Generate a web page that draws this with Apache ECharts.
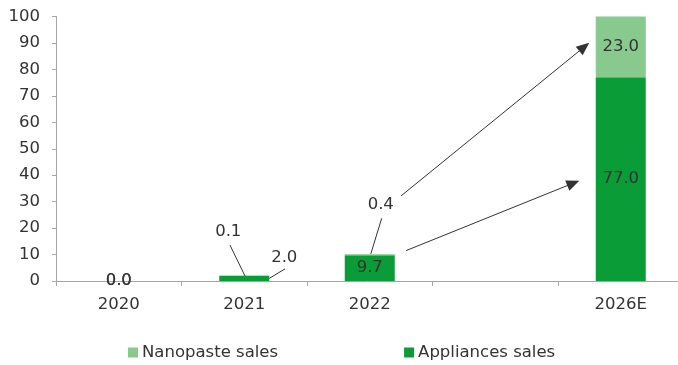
<!DOCTYPE html>
<html>
<head>
<meta charset="utf-8">
<script src="https://cdn.jsdelivr.net/npm/echarts@6/dist/echarts.min.js"></script>
<style>
  html, body { margin: 0; padding: 0; background: #fff; }
  #chart { width: 678px; height: 365px; }
</style>
</head>
<body>
<div id="chart"></div>
<script>
// Sales by year (stacked): appliances at the base, nanopaste on top
const categories = ['2020', '2021', '2022', '', '2026E'];
const appliancesSales = [0.0, 2.0, 9.7, null, 77.0];
const nanopasteSales = [0.0, 0.1, 0.4, null, 23.0];
const yTicks = { min: 0, max: 100, step: 10 };

// Label placement overrides (pixel offsets from the segment centre)
const appliancesLabelOffsets = { 1: [40, -21] };
const nanopasteLabelOffsets = { 1: [-16, -44], 2: [11, -50] };

// Annotation geometry in data units on a hidden continuous x axis
// (x = category index, y = value); arrow ends are the arrowhead centres
const growthArrows = [
  [[2.29, 11.5], [3.622, 37.0]],
  [[2.25, 32.2], [3.709, 88.5]]
];
const leaderLines = [
  [[0.886, 13.6], [1.006, 1.9]],
  [[1.20, 1.0], [1.325, 4.6]],
  [[2.095, 23.7], [2.008, 10.2]]
];

const FONT = "'DejaVu Sans', 'Liberation Sans', Arial, sans-serif";
const FONT_SIZE = 16.5;
const TEXT = '#333333';
const DARK_GREEN = '#0a9c36';
const LIGHT_GREEN = '#88c98e';

function barData(values, offsets) {
  return values.map((v, i) => {
    if (v === null) return null;
    const item = { value: v };
    if (offsets[i]) {
      item.label = { offset: offsets[i] };
    }
    return item;
  });
}

const labelStyle = {
  show: true,
  position: 'inside',
  color: TEXT,
  fontFamily: FONT,
  fontSize: FONT_SIZE,
  formatter: p => (p.value === null || p.value === undefined) ? '' : Number(p.value).toFixed(1)
};

const chart = echarts.init(document.getElementById('chart'), null, { renderer: 'canvas' });

chart.setOption({
  animation: false,
  backgroundColor: '#ffffff',
  textStyle: { fontFamily: FONT },
  grid: {
    left: 56, width: 627.5, top: 16.5, bottom: 84,
    containLabel: false, outerBoundsMode: 'none'
  },
  legend: {
    data: ['Nanopaste sales', 'Appliances sales'],
    left: 128,
    top: 344,
    padding: 0,
    itemGap: 126,
    itemWidth: 10,
    itemHeight: 10,
    icon: 'rect',
    textStyle: { color: TEXT, fontFamily: FONT, fontSize: FONT_SIZE, padding: [0, 0, 0, -1] }
  },
  xAxis: [
    {
      type: 'category',
      data: categories,
      boundaryGap: true,
      axisLine: { lineStyle: { color: '#a6a6a6', width: 1 } },
      axisTick: { show: true, length: 5, lineStyle: { color: '#a6a6a6' }, alignWithLabel: false },
      axisLabel: { color: TEXT, fontFamily: FONT, fontSize: FONT_SIZE, margin: 15.5 },
      splitLine: { show: false }
    },
    {
      type: 'value',
      min: -0.5,
      max: 4.5,
      show: false
    }
  ],
  yAxis: {
    type: 'value',
    min: yTicks.min,
    max: yTicks.max,
    interval: yTicks.step,
    axisLine: { show: true, onZero: false, lineStyle: { color: '#a6a6a6', width: 1 } },
    axisTick: { show: true, length: 4, lineStyle: { color: '#a6a6a6' } },
    axisLabel: { color: TEXT, fontFamily: FONT, fontSize: FONT_SIZE, margin: 16 },
    splitLine: { show: false }
  },
  series: [
    {
      name: 'Appliances sales',
      type: 'bar',
      stack: 'sales',
      barWidth: 50,
      itemStyle: { color: DARK_GREEN },
      label: labelStyle,
      data: barData(appliancesSales, appliancesLabelOffsets),
      z: 2
    },
    {
      name: 'Nanopaste sales',
      type: 'bar',
      stack: 'sales',
      barWidth: 50,
      itemStyle: { color: LIGHT_GREEN },
      label: labelStyle,
      data: barData(nanopasteSales, nanopasteLabelOffsets),
      z: 2
    },
    {
      // Growth arrows and label leader lines
      name: 'annotations',
      type: 'scatter',
      xAxisIndex: 1,
      data: [],
      silent: true,
      z: 5,
      markLine: {
        silent: true,
        animation: false,
        label: { show: false },
        emphasis: { disabled: true },
        precision: 4,
        data: [
          ...growthArrows.map(([a, b]) => [
            { coord: a, symbol: 'none' },
            { coord: b, symbol: 'triangle', symbolSize: [11, 13] }
          ]),
          ...leaderLines.map(([a, b]) => [
            { coord: a, symbol: 'none' },
            { coord: b, symbol: 'none' }
          ])
        ],
        lineStyle: { color: '#333333', width: 1, type: 'solid' }
      }
    }
  ]
});
</script>
</body>
</html>
